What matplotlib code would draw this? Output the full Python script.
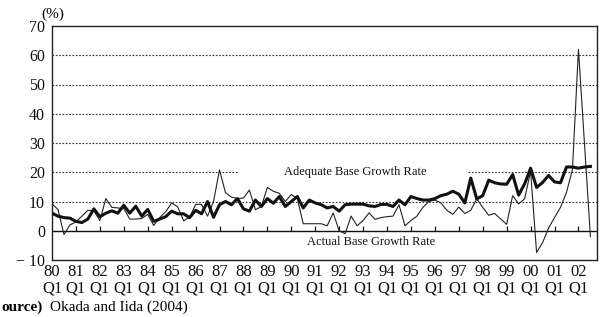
import matplotlib
matplotlib.use("Agg")
import matplotlib.pyplot as plt
import numpy as np

plt.rcParams["font.family"] = ["Liberation Serif", "DejaVu Serif"]

# quarterly data, 1980Q1 .. 2002Q3
adequate = [
    6, 5, 4.5, 4.3, 3.2, 2.8, 4, 7.5, 4.8, 6,
    6.8, 6, 8.7, 6, 8.4, 5, 7.3, 3.2, 4, 4.8,
    6.7, 5.8, 5.8, 4.5, 7, 5.8, 10, 4.6, 8.9, 10,
    8.9, 11, 7.5, 6.7, 10.5, 8.3, 11, 9.4, 11.7, 8.3,
    10, 11.7, 7.8, 10.5, 9.5, 8.9, 7.8, 8.3, 6.7, 8.9,
    9.1, 9.1, 9.1, 8.5, 8.3, 9, 9, 8.3, 10.5, 8.9,
    11.7, 11, 10.5, 10.5, 11, 12, 12.5, 13.5, 12.5, 9.5,
    18, 10.9, 12, 17.3, 16.4, 16, 15.9, 19.2, 12.2, 16,
    21.4, 14.8, 16.5, 18.9, 16.7, 16.4, 21.8, 21.8, 21.4, 21.8,
    22,
]
actual = [
    9.2, 7.3, -1.3, 2, 3, 5, 7, 6.8, 3.5, 11,
    8, 7.8, 7.6, 4, 4, 4.2, 5.6, 1.8, 4.5, 6.5,
    9.5, 8.2, 3.4, 4.6, 9, 9, 5, 10, 20.8, 13,
    11.5, 11, 11.2, 13.9, 7.2, 8.3, 14.8, 13.5, 12.8, 10,
    12.4, 11, 2.4, 2.4, 2.4, 2.4, 1.7, 6.1, 0, -1,
    5, 1.7, 3.5, 6.1, 3.9, 4.5, 4.8, 5, 8.9, 1.7,
    3.5, 5, 8, 10, 10.5, 9.5, 7, 5.6, 8.1, 5.9,
    7, 10.9, 8, 5.3, 5.9, 4, 2.2, 12, 9.2, 10.9,
    20.3, -7.4, -4.1, 0.9, 4.5, 8, 13.1, 21, 62, 30,
    -2,
]
years = ["80", "81", "82", "83", "84", "85", "86", "87", "88", "89", "90",
         "91", "92", "93", "94", "95", "96", "97", "98", "99", "00", "01", "02"]
y_ticks = [-10, 0, 10, 20, 30, 40, 50, 60, 70]
y_labels = ["− 10", "0", "10", "20", "30", "40", "50", "60", "70"]

q = np.arange(len(adequate))
year_q = np.arange(len(years)) * 4

fig = plt.figure(figsize=(6.01, 3.17), dpi=100)
ax = fig.add_axes([52 / 601, 1 - 260 / 317, 545 / 601, 234 / 317])

# dotted reference lines
dots = (0, (1.5, 1.5))
for v in [10, 30, 40, 50, 60]:
    ax.axhline(v, color="#333", lw=0.8, ls=dots, zorder=1)
ax.hlines(20, 0, 31, color="#333", lw=0.8, ls=dots, zorder=1)
ax.hlines(20, 69.6, 92, color="#333", lw=0.8, ls=dots, zorder=1)
ax.axhline(0, color="#111", lw=1.0, zorder=2)
ax.vlines(year_q[1:], 0, 1.5, color="#111", lw=0.9, zorder=2)

ax.plot(q, actual, color="#222", lw=0.8, zorder=3)
ax.plot(q, adequate, color="#111", lw=2.2, zorder=4)

ax.text(38.7, 20, "Adequate Base Growth Rate", fontsize=9, va="center",
        ha="left", color="#111")
ax.text(42.6, -4, "Actual Base Growth Rate", fontsize=9, va="center",
        ha="left", color="#111")

ax.set_xlim(0, 91.1)
ax.set_ylim(-10, 70)
ax.set_yticks(y_ticks)
ax.set_yticklabels(y_labels, fontsize=11.5)
ax.set_xticks(year_q)
ax.set_xticklabels([f"{y}\nQ1" for y in years], fontsize=12, linespacing=1.0)
ax.tick_params(axis="both", length=0, colors="#111")
ax.tick_params(axis="y", pad=5)
ax.tick_params(axis="x", pad=3)
for s in ax.spines.values():
    s.set_color("#222")
    s.set_linewidth(1.0)

fig.text(53 / 601, 1 - 14 / 317, "(%)", fontsize=11, ha="center", va="center")
fig.text(1 / 601, 1 - 307 / 317, "ource)", fontsize=11, fontweight="bold",
         ha="left", va="center")
fig.text(50 / 601, 1 - 307 / 317, "Okada and Iida (2004)", fontsize=11,
         ha="left", va="center")

fig.savefig("out.png", dpi=100)
